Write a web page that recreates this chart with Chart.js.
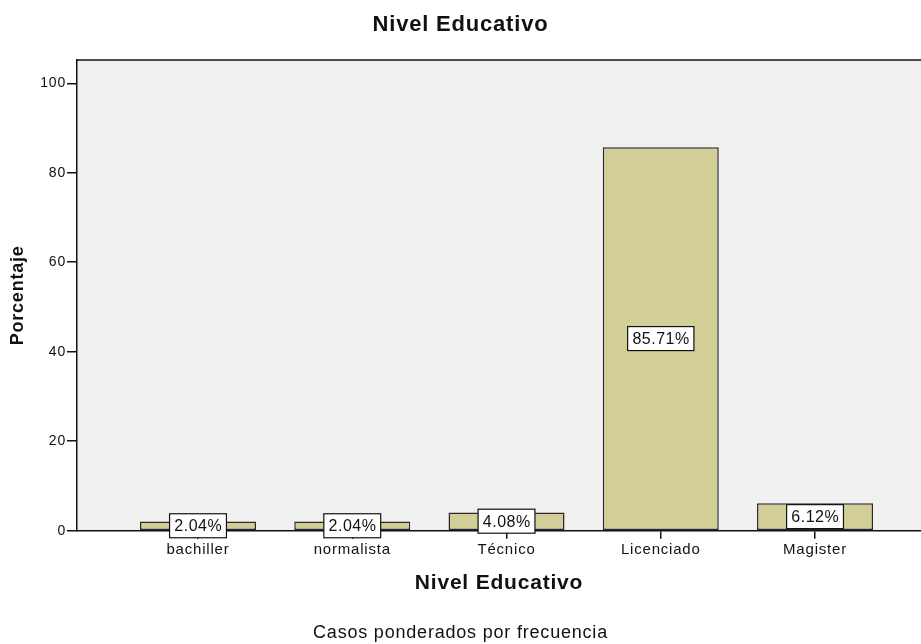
<!DOCTYPE html>
<html lang="es">
<head>
<meta charset="utf-8">
<title>Nivel Educativo</title>
<script src="https://cdn.jsdelivr.net/npm/chart.js@4/dist/chart.umd.min.js"></script>
<style>
  html, body { margin: 0; padding: 0; background: #ffffff; overflow: hidden; }
  #wrap { width: 921px; height: 644px; position: relative; }
</style>
</head>
<body>
<div id="wrap"><canvas id="chart"></canvas></div>
<script>
// Education level distribution (percent of weighted cases)
const categories = ['bachiller', 'normalista', 'Técnico', 'Licenciado', 'Magister'];
const percentages = [2.04, 2.04, 4.08, 85.71, 6.12];
const yTicks = [0, 20, 40, 60, 80, 100];

const FONT = "'Liberation Sans', Arial, Helvetica, sans-serif";
const BAR_FILL = '#d3ce98';
const BAR_EDGE = '#2a2a2a';
const PLOT_BG = '#f0f0f0';

// Categories sit at x = 1..n on a numeric axis so the plot frame can extend
// past the outer bars by different amounts on each side.
const points = categories.map((c, i) => ({ x: i + 1, y: percentages[i] }));

// Plot background, top edge of the frame, and slightly tracked lettering
const plotFrame = {
  id: 'plotFrame',
  beforeDraw(chart) {
    const { ctx, chartArea: a } = chart;
    ctx.save();
    ctx.fillStyle = PLOT_BG;
    ctx.fillRect(a.left, a.top, a.right - a.left, a.bottom - a.top);
    ctx.restore();
    if ('letterSpacing' in ctx) ctx.letterSpacing = '0.8px';
  },
  afterDraw(chart) {
    const { ctx, chartArea: a } = chart;
    if ('letterSpacing' in ctx) ctx.letterSpacing = '0px';
    ctx.save();
    ctx.strokeStyle = '#111';
    ctx.lineWidth = 1.5;
    ctx.beginPath();
    ctx.moveTo(a.left, a.top);
    ctx.lineTo(a.right, a.top);
    ctx.stroke();
    ctx.restore();
  }
};

// Boxed percentage labels centred on each bar
const valueBoxes = {
  id: 'valueBoxes',
  afterDatasetsDraw(chart) {
    const { ctx } = chart;
    const meta = chart.getDatasetMeta(0);
    ctx.save();
    if ('letterSpacing' in ctx) ctx.letterSpacing = '0.5px';
    ctx.font = '16px ' + FONT;
    ctx.textAlign = 'center';
    ctx.textBaseline = 'middle';
    meta.data.forEach((bar, i) => {
      const text = percentages[i].toFixed(2) + '%';
      const w = ctx.measureText(text).width + 9;
      const h = 24;
      const cx = bar.x;
      const cy = (bar.y + bar.base) / 2;
      ctx.fillStyle = '#ffffff';
      ctx.fillRect(cx - w / 2, cy - h / 2, w, h);
      ctx.strokeStyle = '#111';
      ctx.lineWidth = 1.2;
      ctx.strokeRect(cx - w / 2, cy - h / 2, w, h);
      ctx.fillStyle = '#111';
      ctx.fillText(text, cx + 0.25, cy + 1);
    });
    ctx.restore();
  }
};

new Chart(document.getElementById('chart'), {
  type: 'bar',
  data: {
    datasets: [{
      label: 'Porcentaje',
      data: points,
      backgroundColor: BAR_FILL,
      borderColor: BAR_EDGE,
      borderWidth: 1.5,
      borderSkipped: false,
      barPercentage: 0.752,
      categoryPercentage: 1.0
    }]
  },
  options: {
    responsive: true,
    maintainAspectRatio: false,
    animation: false,
    layout: { padding: { left: 0, right: 0, top: 0, bottom: 0 } },
    plugins: {
      legend: { display: false },
      tooltip: { enabled: false },
      title: {
        display: true,
        text: 'Nivel Educativo',
        color: '#111',
        font: { family: FONT, size: 22, weight: 'bold' },
        padding: { top: 12, bottom: 21.6 }
      },
      subtitle: {
        display: true,
        position: 'bottom',
        text: 'Casos ponderados por frecuencia',
        color: '#111',
        font: { family: FONT, size: 18, weight: 'normal' },
        padding: { top: 0, bottom: 0 }
      }
    },
    scales: {
      x: {
        type: 'linear',
        offset: false,
        min: 0.2156,
        max: 5.687,
        afterFit(scale) { scale.height = 91.7; },
        afterBuildTicks(scale) {
          scale.ticks = categories.map((c, i) => ({ value: i + 1 }));
        },
        ticks: {
          stepSize: 1,
          includeBounds: false,
          autoSkip: false,
          maxRotation: 0,
          padding: 2,
          color: '#111',
          font: { family: FONT, size: 15 },
          callback: (v) => categories[Math.round(v) - 1] || ''
        },
        grid: {
          display: true,
          offset: false,
          drawOnChartArea: false,
          drawTicks: true,
          tickLength: 8,
          color: '#111',
          lineWidth: 1.5
        },
        border: { display: true, color: '#111', width: 1.5 },
        title: {
          display: true,
          text: 'Nivel Educativo',
          color: '#111',
          font: { family: FONT, size: 21, weight: 'bold' },
          padding: { top: 0, bottom: 26.4 }
        }
      },
      y: {
        type: 'linear',
        min: 0,
        max: 105.2,
        afterFit(scale) { scale.width = 77; },
        afterBuildTicks(scale) {
          scale.ticks = yTicks.map(v => ({ value: v }));
        },
        ticks: {
          stepSize: 20,
          includeBounds: false,
          padding: 1,
          color: '#111',
          font: { family: FONT, size: 14 }
        },
        grid: {
          display: true,
          drawOnChartArea: false,
          drawTicks: true,
          tickLength: 10,
          color: '#111',
          lineWidth: 1.5
        },
        border: { display: true, color: '#111', width: 1.5 },
        title: {
          display: true,
          text: 'Porcentaje',
          color: '#111',
          font: { family: FONT, size: 18, weight: 'bold' },
          padding: { top: 7.2, bottom: 0 }
        }
      }
    }
  },
  plugins: [plotFrame, valueBoxes]
});
</script>
</body>
</html>
